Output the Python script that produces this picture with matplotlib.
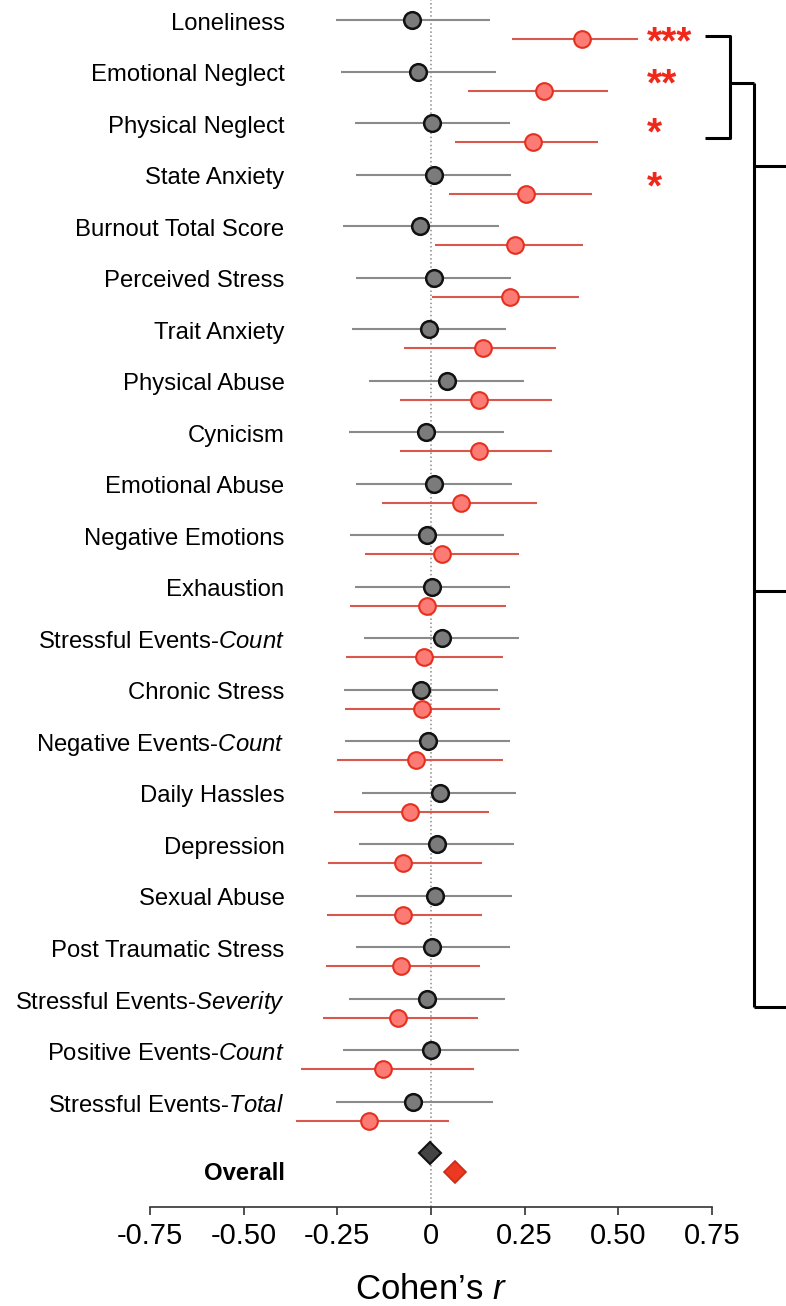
import matplotlib
matplotlib.use("Agg")
import matplotlib.pyplot as plt

plt.rcParams["font.family"] = ["Liberation Sans", "DejaVu Sans"]
plt.rcParams["mathtext.fontset"] = "custom"
plt.rcParams["mathtext.rm"] = "Liberation Sans"
plt.rcParams["mathtext.it"] = "Liberation Sans:italic"
plt.rcParams["mathtext.bf"] = "Liberation Sans:bold"

# Measures, top to bottom
measures = [
    "Loneliness", "Emotional Neglect", "Physical Neglect", "State Anxiety",
    "Burnout Total Score", "Perceived Stress", "Trait Anxiety", "Physical Abuse",
    "Cynicism", "Emotional Abuse", "Negative Emotions", "Exhaustion",
    "Stressful Events-$\\it{Count}$", "Chronic Stress", "Negative Events-$\\it{Count}$",
    "Daily Hassles", "Depression", "Sexual Abuse", "Post Traumatic Stress",
    "Stressful Events-$\\it{Severity}$", "Positive Events-$\\it{Count}$",
    "Stressful Events-$\\it{Total}$",
]

# Gray group: effect size and 95% CI
gray_r = [-0.052, -0.035, 0.003, 0.007, -0.029, 0.008, -0.006, 0.044, -0.013, 0.008,
          -0.011, 0.003, 0.030, -0.028, -0.008, 0.023, 0.015, 0.010, 0.004, -0.012,
          0.000, -0.048]
gray_lo = [-0.254, -0.240, -0.203, -0.199, -0.234, -0.199, -0.211, -0.165, -0.219, -0.199,
           -0.215, -0.202, -0.180, -0.232, -0.229, -0.185, -0.193, -0.199, -0.201, -0.219,
           -0.235, -0.254]
gray_hi = [0.157, 0.174, 0.211, 0.214, 0.181, 0.214, 0.201, 0.249, 0.196, 0.217,
           0.196, 0.211, 0.236, 0.180, 0.211, 0.228, 0.221, 0.217, 0.211, 0.198,
           0.236, 0.165]

# Red group: effect size and 95% CI
red_r = [0.404, 0.302, 0.272, 0.254, 0.223, 0.212, 0.139, 0.129, 0.128, 0.081,
         0.029, -0.010, -0.019, -0.024, -0.040, -0.056, -0.074, -0.076, -0.079, -0.088,
         -0.127, -0.166]
red_lo = [0.216, 0.098, 0.065, 0.048, 0.012, 0.003, -0.071, -0.083, -0.084, -0.130,
          -0.177, -0.217, -0.226, -0.230, -0.250, -0.258, -0.274, -0.277, -0.279, -0.288,
          -0.346, -0.359]
red_hi = [0.553, 0.472, 0.446, 0.431, 0.405, 0.396, 0.333, 0.324, 0.324, 0.282,
          0.234, 0.199, 0.192, 0.184, 0.192, 0.154, 0.137, 0.136, 0.132, 0.126,
          0.116, 0.049]

overall_gray = -0.003
overall_red = 0.065

stars = ["***", "**", "*", "*"]
star_rows = [0.32, 1.13, 2.08, 3.14]

xticks = [-0.75, -0.50, -0.25, 0, 0.25, 0.50, 0.75]
xticklabels = ["-0.75", "-0.50", "-0.25", "0", "0.25", "0.50", "0.75"]

# Layout
offset = 0.37
n = len(measures)
gray_y = list(range(n))
red_y = [y + offset for y in gray_y]

fig = plt.figure(figsize=(7.86, 13.06), dpi=100)
ax = fig.add_axes([0.19084, 0.07580, 0.71501, 0.92420])

ax.axvline(0, color="#8c8c8c", linestyle=":", linewidth=1.1, zorder=0)

# CI lines
ax.hlines(gray_y, gray_lo, gray_hi, color="#8a8a8a", linewidth=1.5, zorder=1)
ax.hlines(red_y, red_lo, red_hi, color="#d9584e", linewidth=1.5, zorder=1)

# Points
ax.plot(gray_r, gray_y, "o", markersize=12, markerfacecolor="#7b7b7b",
        markeredgecolor="#111111", markeredgewidth=1.8, linestyle="none", zorder=3)
ax.plot(red_r, red_y, "o", markersize=12, markerfacecolor="#fc7b74",
        markeredgecolor="#e5301f", markeredgewidth=1.5, linestyle="none", zorder=3)

# Overall diamonds
ax.plot([overall_gray], [n], "D", markersize=11.5, markerfacecolor="#444444",
        markeredgecolor="#111111", markeredgewidth=1.5, zorder=3)
ax.plot([overall_red], [n + offset], "D", markersize=11.5, markerfacecolor="#ec3a22",
        markeredgecolor="#cc2a18", markeredgewidth=1.2, zorder=3)

# Row labels
for y, name in zip(gray_y, measures):
    ax.text(-0.391, y + 0.07, name, ha="right", va="center", fontsize=17.2)
ax.text(-0.391, n + offset + 0.02, "Overall", ha="right", va="center", fontsize=17.2,
        fontweight="bold")

# Significance stars
for y, s in zip(star_rows, stars):
    ax.text(0.575, y + 0.33, s, ha="left", va="baseline", fontsize=28,
            fontweight="bold", color="#f0281a")

# Bracket on the right
bk = dict(color="black", linewidth=2.2, clip_on=False, solid_capstyle="butt")
ax.plot([0.730, 0.797, 0.797, 0.730], [0.305, 0.305, 2.296, 2.296], **bk)
ax.plot([0.797, 0.861], [1.217, 1.217], **bk)
ax.plot([0.861, 0.861], [1.217, 19.16], **bk)
ax.plot([0.861, 0.95], [2.834, 2.834], **bk)
ax.plot([0.861, 0.95], [11.08, 11.08], **bk)
ax.plot([0.861, 0.95], [19.16, 19.16], **bk)

ax.set_xlim(-0.75, 0.75)
ax.set_ylim(23.04, -0.388)
ax.set_yticks([])
ax.set_xticks(xticks)
ax.set_xticklabels(xticklabels, fontsize=21)
ax.tick_params(axis="x", length=6, width=1.2, color="#333333", pad=5)
for side in ["top", "right", "left"]:
    ax.spines[side].set_visible(False)
ax.spines["bottom"].set_linewidth(1.2)
ax.spines["bottom"].set_color("#333333")
ax.set_xlabel("Cohen\u2019s $\\it{r}$", fontsize=25, labelpad=16)

fig.savefig("out.png", dpi=100)
